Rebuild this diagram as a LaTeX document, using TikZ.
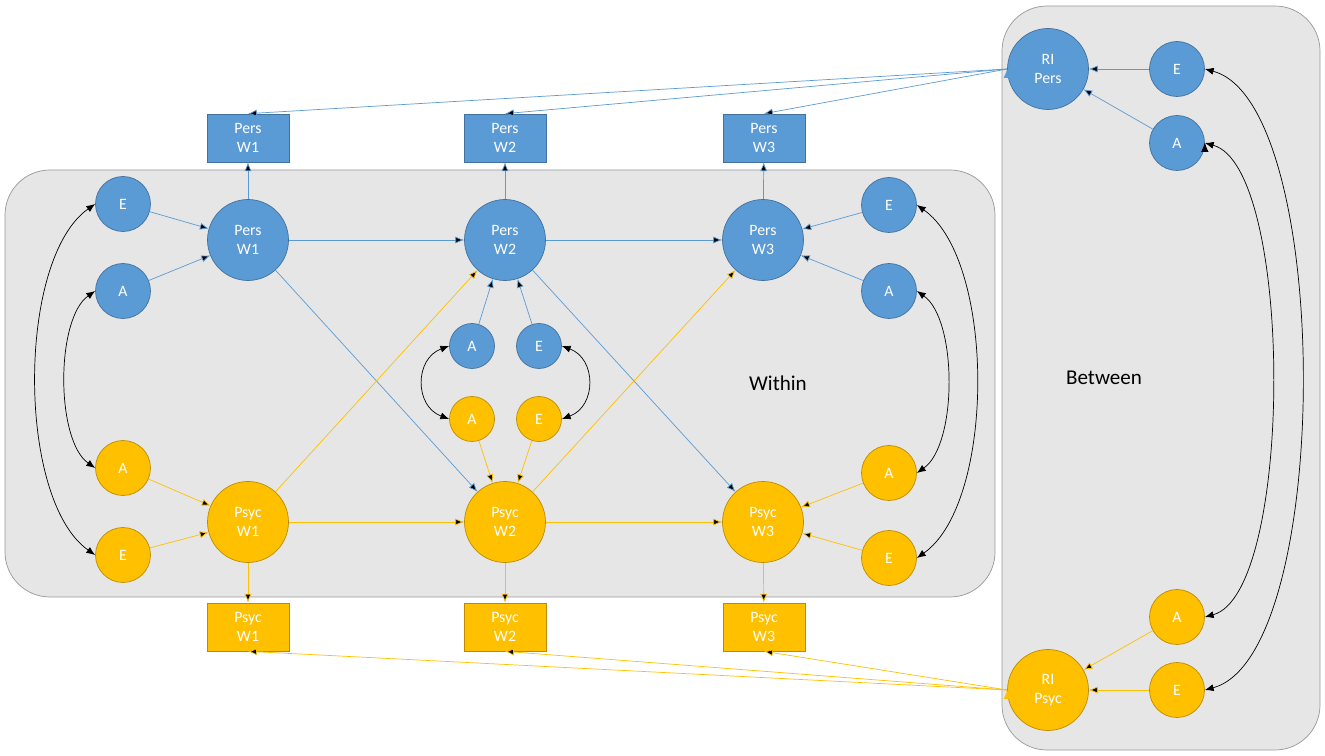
\documentclass[tikz,border=0pt]{standalone}
\usepackage{fontspec}
\setmainfont{Carlito}
\usetikzlibrary{arrows.meta}
\definecolor{persBlue}{HTML}{5B9BD5}
\definecolor{persLine}{HTML}{41719C}
\definecolor{psycOrange}{HTML}{FFC000}
\definecolor{psycLine}{HTML}{BC8C00}
\definecolor{boxGrey}{HTML}{E6E6E6}
\begin{document}
\begin{tikzpicture}[x=0.02cm, y=-0.02cm, font=\fontsize{9}{10.5}\selectfont,
circBig/.style={circle, minimum size=1.62cm, inner sep=0pt, text=white, align=center},
circSmall/.style={circle, minimum size=1.1cm, inner sep=0pt, text=white},
circTiny/.style={circle, minimum size=0.9cm, inner sep=0pt, text=white},
rectObs/.style={rectangle, minimum width=1.64cm, minimum height=0.96cm, inner sep=0pt, text=white, align=center},
pers/.style={draw=persLine, fill=persBlue},
psyc/.style={draw=psycLine, fill=psycOrange},
arrBlue/.style={-{Latex[length=5pt,width=4pt]}, draw=persBlue},
arrOrange/.style={-{Latex[length=5pt,width=4pt]}, draw=psycOrange},
arrCov/.style={{Latex[length=5pt,width=4pt]}-{Latex[length=5pt,width=4pt]}, draw=black}
]
\useasboundingbox (0,0) rectangle (1325,756);

% boxes
\draw[fill=boxGrey, draw=black!40, rounded corners=0.9cm] (5,170) rectangle (995,597);
\draw[fill=boxGrey, draw=black!40, rounded corners=0.9cm] (1002,6) rectangle (1320,750);
\node (Within) at (778,383) {\fontsize{12}{14}\selectfont Within};
\node (Between) at (1104,378) {\fontsize{12}{14}\selectfont Between};

% observed
\node[rectObs, pers] (PersO1) at (248,138) {Pers\\W1};
\node[rectObs, pers] (PersO2) at (505,138) {Pers\\W2};
\node[rectObs, pers] (PersO3) at (764,138) {Pers\\W3};
\node[rectObs, psyc] (PsycO1) at (248,627) {Psyc\\W1};
\node[rectObs, psyc] (PsycO2) at (505,627) {Psyc\\W2};
\node[rectObs, psyc] (PsycO3) at (764,627) {Psyc\\W3};

% within latent
\node[circBig, pers] (Pers1) at (248,240) {Pers\\W1};
\node[circBig, pers] (Pers2) at (505,240) {Pers\\W2};
\node[circBig, pers] (Pers3) at (763,240) {Pers\\W3};
\node[circBig, psyc] (Psyc1) at (248,522) {Psyc\\W1};
\node[circBig, psyc] (Psyc2) at (505,522) {Psyc\\W2};
\node[circBig, psyc] (Psyc3) at (763,522) {Psyc\\W3};

% covariates
\node[circSmall, pers] (lE) at (123,204) {E};
\node[circSmall, pers] (lA) at (123,291) {A};
\node[circSmall, psyc] (lAo) at (123,468) {A};
\node[circSmall, psyc] (lEo) at (123,555) {E};
\node[circTiny, pers] (mA) at (472,346) {A};
\node[circTiny, pers] (mE) at (539,346) {E};
\node[circTiny, psyc] (mAo) at (472,419) {A};
\node[circTiny, psyc] (mEo) at (539,419) {E};
\node[circSmall, pers] (rE) at (889,205) {E};
\node[circSmall, pers] (rA) at (889,291) {A};
\node[circSmall, psyc] (rAo) at (889,473) {A};
\node[circSmall, psyc] (rEo) at (889,558) {E};

% between
\node[circBig, pers] (RIPers) at (1048,69) {RI\\Pers};
\node[circSmall, pers] (bE) at (1177,69) {E};
\node[circSmall, pers] (bA) at (1177,143) {A};
\node[circSmall, psyc] (bAo) at (1177,617) {A};
\node[circSmall, psyc] (bEo) at (1177,690) {E};
\node[circBig, psyc] (RIPsyc) at (1048,690) {RI\\Psyc};

\path[arrBlue] (lE) edge (Pers1)  (lA) edge (Pers1)
  (Pers1) edge (Pers2)  (Pers2) edge (Pers3)
  (Pers1) edge (Psyc2)  (Pers2) edge (Psyc3)
  (mA) edge (Pers2)  (mE) edge (Pers2)
  (rE) edge (Pers3)  (rA) edge (Pers3)
  (Pers1) edge (PersO1)  (Pers2) edge (PersO2)  (Pers3) edge (PersO3)
  (RIPers.west) edge (PersO1.north)  (RIPers.west) edge (PersO2.north)  (RIPers.west) edge (PersO3.north)
  (bE) edge (RIPers)  (bA) edge (RIPers);

\path[arrOrange] (lAo) edge (Psyc1)  (lEo) edge (Psyc1)
  (Psyc1) edge (Psyc2)  (Psyc2) edge (Psyc3)
  (Psyc1) edge (Pers2)  (Psyc2) edge (Pers3)
  (mAo) edge (Psyc2)  (mEo) edge (Psyc2)
  (rAo) edge (Psyc3)  (rEo) edge (Psyc3)
  (Psyc1) edge (PsycO1)  (Psyc2) edge (PsycO2)  (Psyc3) edge (PsycO3)
  (RIPsyc.west) edge (PsycO1.south)  (RIPsyc.west) edge (PsycO2.south)  (RIPsyc.west) edge (PsycO3.south)
  (bAo) edge (RIPsyc)  (bEo) edge (RIPsyc);

\path[arrCov]
  (lE.west) edge[out=215, in=145, looseness=0.7] (lEo.west)
  (lA.west) edge[out=215, in=145, looseness=0.7] (lAo.west)
  (mA.west) edge[out=200, in=160, looseness=1.3] (mAo.west)
  (mE.east) edge[out=-20, in=20, looseness=1.3] (mEo.east)
  (rE.east) edge[out=-35, in=35, looseness=0.7] (rEo.east)
  (rA.east) edge[out=-35, in=35, looseness=0.7] (rAo.east)
  (bE.east) edge[out=-15, in=15, looseness=0.55] (bEo.east)
  (bA.east) edge[out=-15, in=15, looseness=0.5] (bAo.east);
\end{tikzpicture}
\end{document}
